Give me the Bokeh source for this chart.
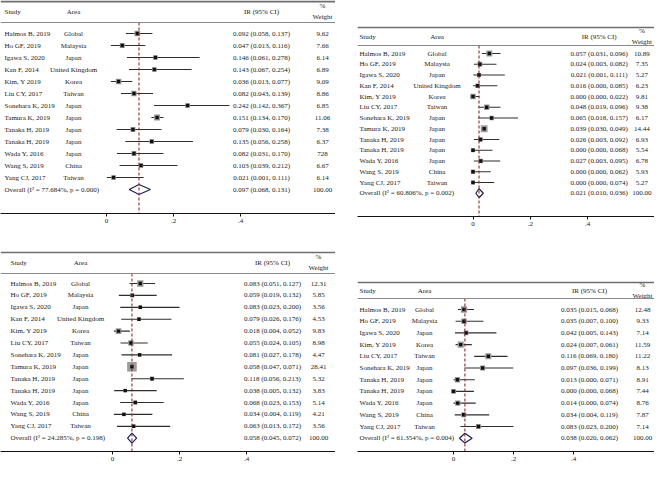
import math
from bokeh.plotting import figure
from bokeh.models import Range1d, Span, FixedTicker
from bokeh.layouts import column, row
from bokeh.embed import file_html
from bokeh.resources import INLINE
from bokeh.core.properties import value

# ---------------- data ----------------
studies_13 = ["Halmos B, 2019", "Ho GF, 2019", "Igawa S, 2020", "Kan F, 2014", "Kim, Y 2019",
              "Liu CY, 2017", "Sonehara K, 2019", "Tamura K, 2019", "Tanaka H, 2019",
              "Tanaka H, 2019", "Wada Y, 2016", "Wang S, 2019", "Yang CJ, 2017"]
areas_13 = ["Global", "Malaysia", "Japan", "United Kingdom", "Korea", "Taiwan", "Japan",
            "Japan", "Japan", "Japan", "Japan", "China", "Taiwan"]

studies_11 = ["Halmos B, 2019", "Ho GF, 2019", "Igawa S, 2020", "Kim, Y 2019", "Liu CY, 2017",
              "Sonehara K, 2019", "Tanaka H, 2019", "Tanaka H, 2019", "Wada Y, 2016",
              "Wang S, 2019", "Yang CJ, 2017"]
areas_11 = ["Global", "Malaysia", "Japan", "Korea", "Taiwan", "Japan", "Japan", "Japan",
            "Japan", "China", "Taiwan"]

# Panel A (top left)
a_ir = [0.092, 0.047, 0.146, 0.143, 0.036, 0.082, 0.242, 0.151, 0.079, 0.135, 0.082, 0.103, 0.021]
a_lo = [0.058, 0.013, 0.061, 0.067, 0.013, 0.043, 0.142, 0.134, 0.030, 0.056, 0.031, 0.039, 0.001]
a_hi = [0.137, 0.116, 0.278, 0.254, 0.077, 0.139, 0.367, 0.170, 0.164, 0.258, 0.170, 0.212, 0.111]
a_wt = [9.62, 7.66, 6.14, 6.89, 9.09, 8.86, 6.85, 11.06, 7.38, 6.37, 7.28, 6.67, 6.14]
a_overall = [0.097, 0.068, 0.131]
a_het = ["77.684%", "0.000"]

# Panel B (top right)
b_ir = [0.057, 0.024, 0.021, 0.016, 0.000, 0.048, 0.065, 0.039, 0.026, 0.000, 0.027, 0.000, 0.000]
b_lo = [0.031, 0.003, 0.001, 0.000, 0.000, 0.019, 0.018, 0.030, 0.003, 0.000, 0.003, 0.000, 0.000]
b_hi = [0.096, 0.082, 0.111, 0.085, 0.022, 0.096, 0.157, 0.049, 0.092, 0.068, 0.095, 0.062, 0.074]
b_wt = [10.89, 7.35, 5.27, 6.23, 9.81, 9.38, 6.17, 14.44, 6.93, 5.54, 6.78, 5.93, 5.27]
b_overall = [0.021, 0.010, 0.036]
b_het = ["60.806%", "0.002"]

# Panel C (bottom left)
c_ir = [0.083, 0.059, 0.083, 0.079, 0.018, 0.055, 0.081, 0.058, 0.118, 0.038, 0.068, 0.034, 0.063]
c_lo = [0.051, 0.019, 0.023, 0.026, 0.004, 0.024, 0.027, 0.047, 0.056, 0.005, 0.023, 0.004, 0.013]
c_hi = [0.127, 0.132, 0.200, 0.176, 0.052, 0.105, 0.178, 0.071, 0.213, 0.132, 0.153, 0.119, 0.172]
c_wt = [12.31, 5.85, 3.56, 4.53, 9.83, 8.98, 4.47, 28.41, 5.32, 3.83, 5.14, 4.21, 3.56]
c_overall = [0.058, 0.045, 0.072]
c_het = ["24.285%", "0.198"]

# Panel D (bottom right)
d_ir = [0.035, 0.035, 0.042, 0.024, 0.116, 0.097, 0.013, 0.000, 0.014, 0.034, 0.083]
d_lo = [0.015, 0.007, 0.005, 0.007, 0.069, 0.036, 0.000, 0.000, 0.000, 0.004, 0.023]
d_hi = [0.068, 0.100, 0.143, 0.061, 0.180, 0.199, 0.071, 0.068, 0.074, 0.119, 0.200]
d_wt = [12.48, 9.33, 7.14, 11.59, 11.22, 8.13, 8.91, 7.44, 8.76, 7.87, 7.14]
d_overall = [0.038, 0.020, 0.062]
d_het = ["61.354%", "0.004"]

total_weight_label = "100.00"
tick_values = [0, 0.2, 0.4]
tick_labels = ["0", ".2", ".4"]

# ---------------- styling ----------------
FONT = "Liberation Serif"
FS = "7px"
TXT = "#1a1a1a"


def panel(studies, areas, ir, lo, hi, wt, overall, het, g, wt_labels=None):
    fig_w, fig_h, bl, bb = g["w"], g["h"], g["bl"], g["bb"]
    fl, ft = g["fl"], g["ft"]
    fr = fl + (fig_w - bl)
    fb = ft + (fig_h - bb)
    t0, u, r0, st = g["t0"], g["u"], g["r0"], g["st"]

    def X(xr):
        return (xr - t0) / u

    def Y(yr):
        return (yr - r0) / st

    p = figure(width=fig_w, height=fig_h,
               x_range=Range1d(X(fl), X(fr)), y_range=Range1d(Y(fb), Y(ft)),
               output_backend="svg", toolbar_location=None, y_axis_location=None,
               min_border_left=bl, min_border_right=0, min_border_top=0, min_border_bottom=bb)
    p.outline_line_color = None
    p.xgrid.visible = False
    p.ygrid.visible = False
    p.background_fill_color = "white"
    p.border_fill_color = "white"

    n = len(studies)
    rows = list(range(n))

    def txt(x, y, t, align="left"):
        p.text(x=x, y=y, text=t, text_font=value(FONT), text_font_size=FS,
               text_color=TXT, text_align=align, text_baseline="middle")

    # horizontal rules
    p.add_layout(Span(location=Y(g["top"]), dimension="width", line_color="#6e6e6e",
                      line_width=g.get("tw", 1.5)))
    p.add_layout(Span(location=Y(g["hr"]), dimension="width", line_color="#8a8a8a",
                      line_width=1))

    # CI lines and weighted boxes
    p.segment(x0=lo, y0=rows, x1=hi, y1=rows, line_color="#2e2e2e", line_width=1.15)
    p.scatter(x=ir, y=rows, marker="square", size=[1.8 * math.sqrt(w) for w in wt],
              fill_color="#9c9c9c", line_color=None)
    p.scatter(x=ir, y=rows, marker="square", size=3.4, fill_color="#111111", line_color=None)

    # overall diamond + dashed reference line
    est, olo, ohi = overall
    p.patch(x=[olo, est, ohi, est], y=[n, n - 0.42, n, n + 0.42],
            fill_color="white", line_color="#1e1e5c", line_width=1.2)
    p.segment(x0=[est], y0=[Y(g["hr"])], x1=[est], y1=[Y(fb)],
              line_color="#8b2c2c", line_dash="3 2", line_width=1.1)

    # table text
    sx, ac, ic, wc = X(g["sx"]), X(g["ac"]), X(g["ic"]), X(g["wc"])
    txt([sx] * n, rows, studies, "left")
    txt([ac] * n, rows, areas, "center")
    txt([ic] * n, rows, [f"{a:.3f} ({b:.3f}, {c:.3f})" for a, b, c in zip(ir, lo, hi)], "center")
    labs = wt_labels if wt_labels is not None else [f"{w:.2f}" for w in wt]
    txt([wc] * n, rows, labs, "center")
    txt([sx], [n], [f"Overall (I\u00b2 = {het[0]}, p = {het[1]})"], "left")
    txt([ic], [n], [f"{est:.3f} ({olo:.3f}, {ohi:.3f})"], "center")
    txt([wc], [n], [total_weight_label], "center")

    # header
    hy = Y(g["hdr"])
    txt([sx], [hy], ["Study"], "left")
    txt([ac], [hy], ["Area"], "center")
    txt([ic], [hy], ["IR (95% CI)"], "center")
    txt([wc], [Y(g["hdr"] - 6)], ["%"], "center")
    txt([wc], [Y(g["hdr"] + 5)], ["Weight"], "center")

    # axis
    ax = p.xaxis[0]
    ax.ticker = FixedTicker(ticks=tick_values)
    ax.major_label_overrides = dict(zip(tick_values, tick_labels))
    ax.axis_line_color = "#111111"
    ax.axis_line_width = 1
    ax.major_tick_line_color = "#111111"
    ax.major_tick_out = 3
    ax.major_tick_in = 0
    ax.minor_tick_line_color = None
    ax.major_label_standoff = 2
    ax.major_label_text_font = FONT
    ax.major_label_text_font_size = FS
    ax.major_label_text_color = TXT
    return p


# panel geometry (pixels)
g_a = dict(w=335, h=244, bl=0, bb=31, fl=0, ft=0, t0=106, u=335, r0=33, st=12,
           top=1, hdr=11, hr=22, sx=4, ac=73, ic=261, wc=322, tw=2)
g_c = dict(w=335, h=222, bl=0, bb=15, fl=0, ft=244, t0=112, u=335, r0=283, st=11.9,
           top=252, hdr=262, hr=273, sx=10, ac=80, ic=272, wc=318)
g_b = dict(w=319, h=266, bl=13, bb=50, fl=348, ft=0, t0=467, u=295, r0=53, st=10.75,
           top=27, hdr=36, hr=45, sx=350, ac=430, ic=597, wc=641)
g_d = dict(w=319, h=200, bl=22, bb=15, fl=357, ft=266, t0=453, u=300, r0=309, st=11.7,
           top=282, hdr=290, hr=298, sx=359, ac=424, ic=589, wc=642)

a_labels = [f"{w:.2f}" for w in a_wt]
a_labels[10] = "728"  # printed this way in the source figure

pa = panel(studies_13, areas_13, a_ir, a_lo, a_hi, a_wt, a_overall, a_het, g_a, a_labels)
pb = panel(studies_13, areas_13, b_ir, b_lo, b_hi, b_wt, b_overall, b_het, g_b)
pc = panel(studies_13, areas_13, c_ir, c_lo, c_hi, c_wt, c_overall, c_het, g_c)
pd_ = panel(studies_11, areas_11, d_ir, d_lo, d_hi, d_wt, d_overall, d_het, g_d)

layout = row(column(pa, pc), column(pb, pd_))
open("out.html", "w").write(file_html(layout, INLINE))
